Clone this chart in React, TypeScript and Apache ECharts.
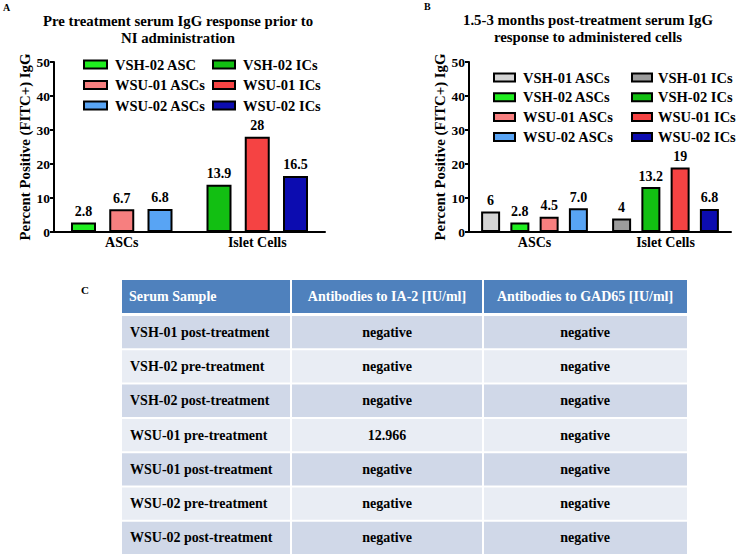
import React, { useEffect, useRef } from "react";
import * as echarts from "echarts";

const FONT = '"Liberation Serif", "Times New Roman", serif';

const CATS = ["ASCs", "Islet Cells"];

// Panel A
const A_TITLE = "Pre treatment serum IgG response prior to\nNI administration";
const A_ASC_NAMES = ["VSH-02 ASC", "WSU-01 ASCs", "WSU-02 ASCs"];
const A_ASC_VALUES = [2.8, 6.7, 6.8];
const A_ASC_LABELS = ["2.8", "6.7", "6.8"];
const A_ASC_COLORS = ["#20ee20", "#f77f7f", "#58a4f4"];
const A_IC_NAMES = ["VSH-02 ICs", "WSU-01 ICs", "WSU-02 ICs"];
const A_IC_VALUES = [13.9, 28, 16.5];
const A_IC_LABELS = ["13.9", "28", "16.5"];
const A_IC_COLORS = ["#12bf12", "#f54343", "#0c0cb0"];

// Panel B
const B_TITLE = "1.5-3 months post-treatment serum IgG\nresponse to administered cells";
const B_ASC_NAMES = ["VSH-01 ASCs", "VSH-02 ASCs", "WSU-01 ASCs", "WSU-02 ASCs"];
const B_ASC_VALUES = [6, 2.8, 4.5, 7.0];
const B_ASC_LABELS = ["6", "2.8", "4.5", "7.0"];
const B_ASC_COLORS = ["#d4d4d4", "#20ee20", "#f77f7f", "#58a4f4"];
const B_IC_NAMES = ["VSH-01 ICs", "VSH-02 ICs", "WSU-01 ICs", "WSU-02 ICs"];
const B_IC_VALUES = [4, 13.2, 19, 6.8];
const B_IC_LABELS = ["4", "13.2", "19", "6.8"];
const B_IC_COLORS = ["#9c9c9c", "#12bf12", "#f54343", "#0c0cb0"];

const Y_NAME = "Percent Positive (FITC+) IgG";
const Y_MIN = 0;
const Y_MAX = 50;
const Y_INTERVAL = 10;

// Panel C table
const TABLE_HEADERS = ["Serum Sample", "Antibodies to IA-2 [IU/ml]", "Antibodies to GAD65 [IU/ml]"];
const TABLE_SAMPLES = [
  "VSH-01 post-treatment",
  "VSH-02 pre-treatment",
  "VSH-02 post-treatment",
  "WSU-01 pre-treatment",
  "WSU-01 post-treatment",
  "WSU-02 pre-treatment",
  "WSU-02 post-treatment",
];
const TABLE_IA2 = ["negative", "negative", "negative", "12.966", "negative", "negative", "negative"];
const TABLE_GAD65 = ["negative", "negative", "negative", "negative", "negative", "negative", "negative"];

function buildSeries(
  prefix: string,
  gridIdx: number,
  ascNames: string[],
  ascVals: number[],
  ascLbls: string[],
  ascCols: string[],
  icNames: string[],
  icVals: number[],
  icLbls: string[],
  icCols: string[],
  barWidth: number,
  barGap: string
) {
  const out: any[] = [];
  const common = (color: string) => ({
    type: "bar",
    xAxisIndex: gridIdx,
    yAxisIndex: gridIdx,
    barWidth,
    barGap,
    itemStyle: { color, borderColor: "#000", borderWidth: 2 },
    label: {
      show: true,
      position: "top",
      distance: 4,
      color: "#000",
      fontFamily: FONT,
      fontWeight: "bold",
      fontSize: 14,
    },
  });
  for (let i = 0; i < ascNames.length; i++) {
    out.push({
      ...common(ascCols[i]),
      name: prefix + ascNames[i],
      stack: prefix + "s" + i,
      data: [{ value: ascVals[i], label: { formatter: ascLbls[i] } }, "-"],
    });
    out.push({
      ...common(icCols[i]),
      name: prefix + icNames[i],
      stack: prefix + "s" + i,
      data: ["-", { value: icVals[i], label: { formatter: icLbls[i] } }],
    });
  }
  return out;
}

function axisY(gridIndex: number, nameGap: number) {
  return {
    type: "value",
    gridIndex,
    min: Y_MIN,
    max: Y_MAX,
    interval: Y_INTERVAL,
    name: Y_NAME,
    nameLocation: "middle",
    nameRotate: 90,
    nameGap,
    nameTextStyle: { color: "#000", fontFamily: FONT, fontWeight: "bold", fontSize: 14.8 },
    axisLine: { show: true, lineStyle: { color: "#000", width: 2 } },
    axisTick: { show: true, length: 4, lineStyle: { color: "#000", width: 2 } },
    splitLine: { show: false },
    axisLabel: { color: "#000", fontFamily: FONT, fontWeight: "bold", fontSize: 13.5, margin: 4 },
  };
}

function axisX(gridIndex: number) {
  return {
    type: "category",
    gridIndex,
    data: CATS,
    axisLine: { show: true, lineStyle: { color: "#000", width: 2 } },
    axisTick: { show: false },
    axisLabel: { color: "#000", fontFamily: FONT, fontWeight: "bold", fontSize: 14, margin: 3 },
  };
}

function legend(
  prefix: string,
  names: string[],
  left: number,
  top: number,
  itemWidth: number,
  gap: number,
  textPad: number
) {
  return {
    orient: "vertical",
    left,
    top,
    selectedMode: false,
    icon: "rect",
    itemWidth,
    itemHeight: 8,
    itemGap: gap,
    padding: 0,
    data: names.map((n) => prefix + n),
    formatter: (n: string) => n.replace(/^[AB]:/, ""),
    textStyle: {
      color: "#000",
      fontFamily: FONT,
      fontWeight: "bold",
      fontSize: 14.5,
      padding: [0, 0, 0, textPad],
    },
  };
}

function tableGraphics() {
  const els: any[] = [];
  const TX = [122, 291, 483, 687];
  const headerTop = 280;
  const headerH = 33;
  const rowTop = 315;
  const rowH = 34.3;
  const font = (size: number) => `bold ${size}px ${FONT}`;
  for (let c = 0; c < 3; c++) {
    const x0 = TX[c] + (c > 0 ? 1 : 0);
    const w = TX[c + 1] - TX[c] - (c > 0 ? 1 : 0) - (c < 2 ? 1 : 0);
    els.push({ type: "rect", shape: { x: x0, y: headerTop, width: w, height: headerH }, style: { fill: "#4f81bd" }, silent: true });
    els.push({
      type: "text",
      x: c === 0 ? 129 : (TX[c] + TX[c + 1]) / 2,
      y: headerTop + headerH / 2,
      style: {
        text: TABLE_HEADERS[c],
        fill: "#fff",
        font: font(14),
        textAlign: c === 0 ? "left" : "center",
        textVerticalAlign: "middle",
      },
      silent: true,
    });
    for (let r = 0; r < TABLE_SAMPLES.length; r++) {
      const y0 = rowTop + r * rowH + 1;
      els.push({
        type: "rect",
        shape: { x: x0, y: y0, width: w, height: rowH - 2 },
        style: { fill: r % 2 === 0 ? "#d0d8e8" : "#e9edf4" },
        silent: true,
      });
      const txt = c === 0 ? TABLE_SAMPLES[r] : c === 1 ? TABLE_IA2[r] : TABLE_GAD65[r];
      els.push({
        type: "text",
        x: c === 0 ? 130 : (TX[c] + TX[c + 1]) / 2,
        y: rowTop + r * rowH + rowH / 2,
        style: {
          text: txt,
          fill: "#000",
          font: font(14),
          textAlign: c === 0 ? "left" : "center",
          textVerticalAlign: "middle",
        },
        silent: true,
      });
    }
  }
  return els;
}

export default function App() {
  const ref = useRef<HTMLDivElement>(null);
  useEffect(() => {
    if (!ref.current) return;
    const chart = echarts.init(ref.current, null, { renderer: "svg" });
    const seriesA = buildSeries(
      "A:", 0, A_ASC_NAMES, A_ASC_VALUES, A_ASC_LABELS, A_ASC_COLORS,
      A_IC_NAMES, A_IC_VALUES, A_IC_LABELS, A_IC_COLORS, 25, "53%"
    );
    const seriesB = buildSeries(
      "B:", 1, B_ASC_NAMES, B_ASC_VALUES, B_ASC_LABELS, B_ASC_COLORS,
      B_IC_NAMES, B_IC_VALUES, B_IC_LABELS, B_IC_COLORS, 19, "54%"
    );
    const titleText = (text: string, x: number, y: number) => ({
      type: "text",
      x,
      y,
      style: {
        text,
        fill: "#000",
        font: `bold 14.8px ${FONT}`,
        textAlign: "center",
        textVerticalAlign: "top",
        lineHeight: 16.5,
      },
      silent: true,
    });
    const panelLabel = (text: string, x: number, y: number, size: number) => ({
      type: "text",
      x,
      y,
      style: { text, fill: "#000", font: `bold ${size}px ${FONT}`, textAlign: "left", textVerticalAlign: "middle" },
      silent: true,
    });
    chart.setOption({
      animation: false,
      backgroundColor: "#fff",
      grid: [
        { left: 54, top: 62, width: 271, height: 170, containLabel: false },
        { left: 469, top: 62, width: 262, height: 170, containLabel: false },
      ],
      xAxis: [axisX(0), axisX(1)],
      yAxis: [axisY(0, 19), axisY(1, 21)],
      legend: [
        legend("A:", A_ASC_NAMES, 83, 57, 23, 5.5, 3),
        legend("A:", A_IC_NAMES, 212, 57, 22, 5.5, 3),
        legend("B:", B_ASC_NAMES, 493, 70, 21, 4.8, 3),
        legend("B:", B_IC_NAMES, 631, 70, 20, 4.8, 1),
      ],
      series: [...seriesA, ...seriesB],
      graphic: [
        titleText(A_TITLE, 178, 13),
        titleText(B_TITLE, 588, 12),
        panelLabel("A", 3, 7, 10),
        panelLabel("B", 424, 6, 10),
        panelLabel("C", 81, 290, 11),
        ...tableGraphics(),
      ],
    });
    return () => chart.dispose();
  }, []);
  return (
    <div
      ref={ref}
      style={{ position: "fixed", left: 0, top: 0, width: 740, height: 555, background: "#fff" }}
    />
  );
}
